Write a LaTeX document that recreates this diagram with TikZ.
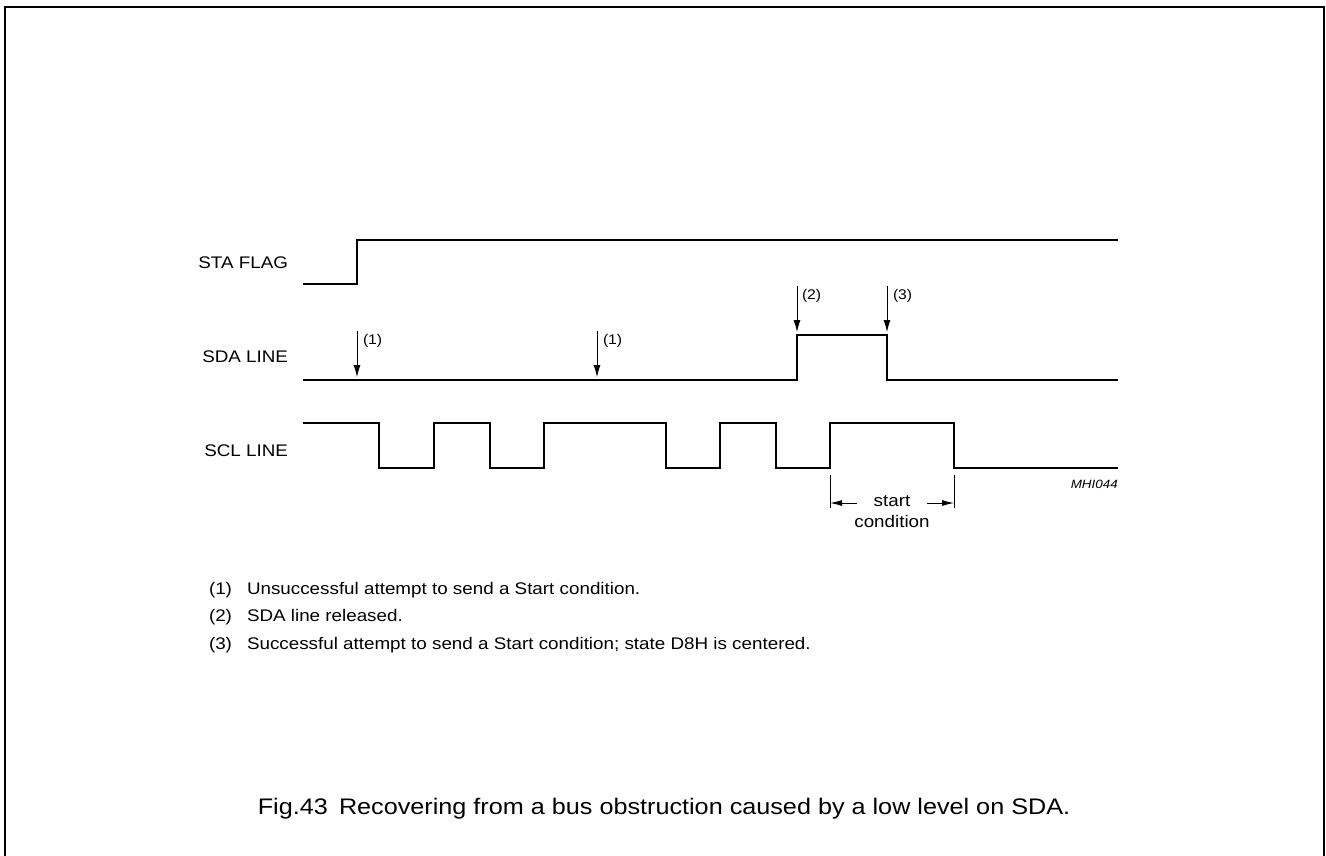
\documentclass[tikz,border=0pt]{standalone}
\usepackage{fontspec}
\setmainfont[FakeStretch=1.12]{Liberation Sans}
\usetikzlibrary{arrows.meta}
\tikzset{
  frameline/.style={draw=black,line width=1.8pt},
  wave/.style={draw=black,line width=2.6pt,line join=miter},
  marker/.style={draw=black,line width=0.9pt,-{Latex[length=12pt,width=7pt]}},
  spanarrow/.style={draw=black,line width=0.9pt,-{Latex[length=12pt,width=6pt]}},
  dimline/.style={draw=black,line width=0.7pt},
  siglabel/.style={inner sep=0pt,outer sep=0pt,anchor=base east,font=\fontsize{16.8}{20}\selectfont},
  reflabel/.style={inner sep=0pt,outer sep=0pt,anchor=base west,font=\fontsize{14}{16.8}\selectfont},
  notetext/.style={inner sep=0pt,outer sep=0pt,anchor=base west,font=\fontsize{16.8}{20}\selectfont},
}
\begin{document}
\begin{tikzpicture}[x=1pt,y=-1pt]
\path[use as bounding box] (0,0) rectangle (1326,855);
\draw[frameline] (5,857) -- (5,7) -- (1324,7) -- (1324,857);
% signal names
\node[siglabel] (staname) at (288,268) {STA FLAG};
\node[siglabel] (sdaname) at (288,362) {SDA LINE};
\node[siglabel] (sclname) at (288,456) {SCL LINE};
% waveforms
\draw[wave] (303,284) -- (357,284) -- (357,240) -- (1118,240);
\draw[wave] (303,380) -- (797,380) -- (797,335) -- (887,335) -- (887,380) -- (1118,380);
\draw[wave] (303,423) -- (379,423) -- (379,468) -- (434,468) -- (434,423) -- (490,423) -- (490,468) -- (544,468) -- (544,423) -- (666,423) -- (666,468) -- (720,468) -- (720,423) -- (776,423) -- (776,468) -- (830,468) -- (830,423) -- (954,423) -- (954,468) -- (1118,468);
% event markers
\coordinate (try1top) at (357,331);
\coordinate (try1) at (357,377);
\coordinate (try2top) at (597,331);
\coordinate (try2) at (597,377);
\coordinate (reltop) at (797,286);
\coordinate (rel) at (797,332);
\coordinate (oktop) at (887,286);
\coordinate (ok) at (887,332);
\draw[marker] (try1top) -- (try1);
\draw[marker] (try2top) -- (try2);
\draw[marker] (reltop) -- (rel);
\draw[marker] (oktop) -- (ok);
\node[reflabel] (lbltry1) at (363,344) {(1)};
\node[reflabel] (lbltry2) at (603,344) {(1)};
\node[reflabel] (lblrel) at (802,299) {(2)};
\node[reflabel] (lblok) at (893,299) {(3)};
% start condition span
\coordinate (spanl) at (830,475);
\coordinate (spanr) at (954,475);
\draw[dimline] (spanl) -- ++(0,33);
\draw[dimline] (spanr) -- ++(0,33);
\node[inner sep=0pt,anchor=base,font=\fontsize{16.8}{20}\selectfont] (startword) at (892,506) {start};
\node[inner sep=0pt,anchor=base,font=\fontsize{16.8}{20}\selectfont] (condword) at (892,527) {condition};
\coordinate (arrl) at (830,503);
\coordinate (arrr) at (954,503);
\draw[spanarrow] (arrl -| 857,0) -- (arrl);
\draw[spanarrow] (arrr -| 927,0) -- (arrr);
\node[inner sep=0pt,anchor=base east,font=\itshape\fontsize{12}{14.4}\selectfont] (figcode) at (1118,488) {MHI044};
% notes
\node[notetext] (n1) at (209,594) {(1)};
\node[notetext] (n1t) at (247,594) {Unsuccessful attempt to send a Start condition.};
\node[notetext] (n2) at (209,621) {(2)};
\node[notetext] (n2t) at (247,621) {SDA line released.};
\node[notetext] (n3) at (209,649) {(3)};
\node[notetext] (n3t) at (247,649) {Successful attempt to send a Start condition; state D8H is centered.};
% caption
\node[inner sep=0pt,anchor=base,font=\fontsize{22.5}{27}\selectfont] (caption) at (664,814) {Fig.43\hspace{0.5em}Recovering from a bus obstruction caused by a low level on SDA.};
\end{tikzpicture}
\end{document}
